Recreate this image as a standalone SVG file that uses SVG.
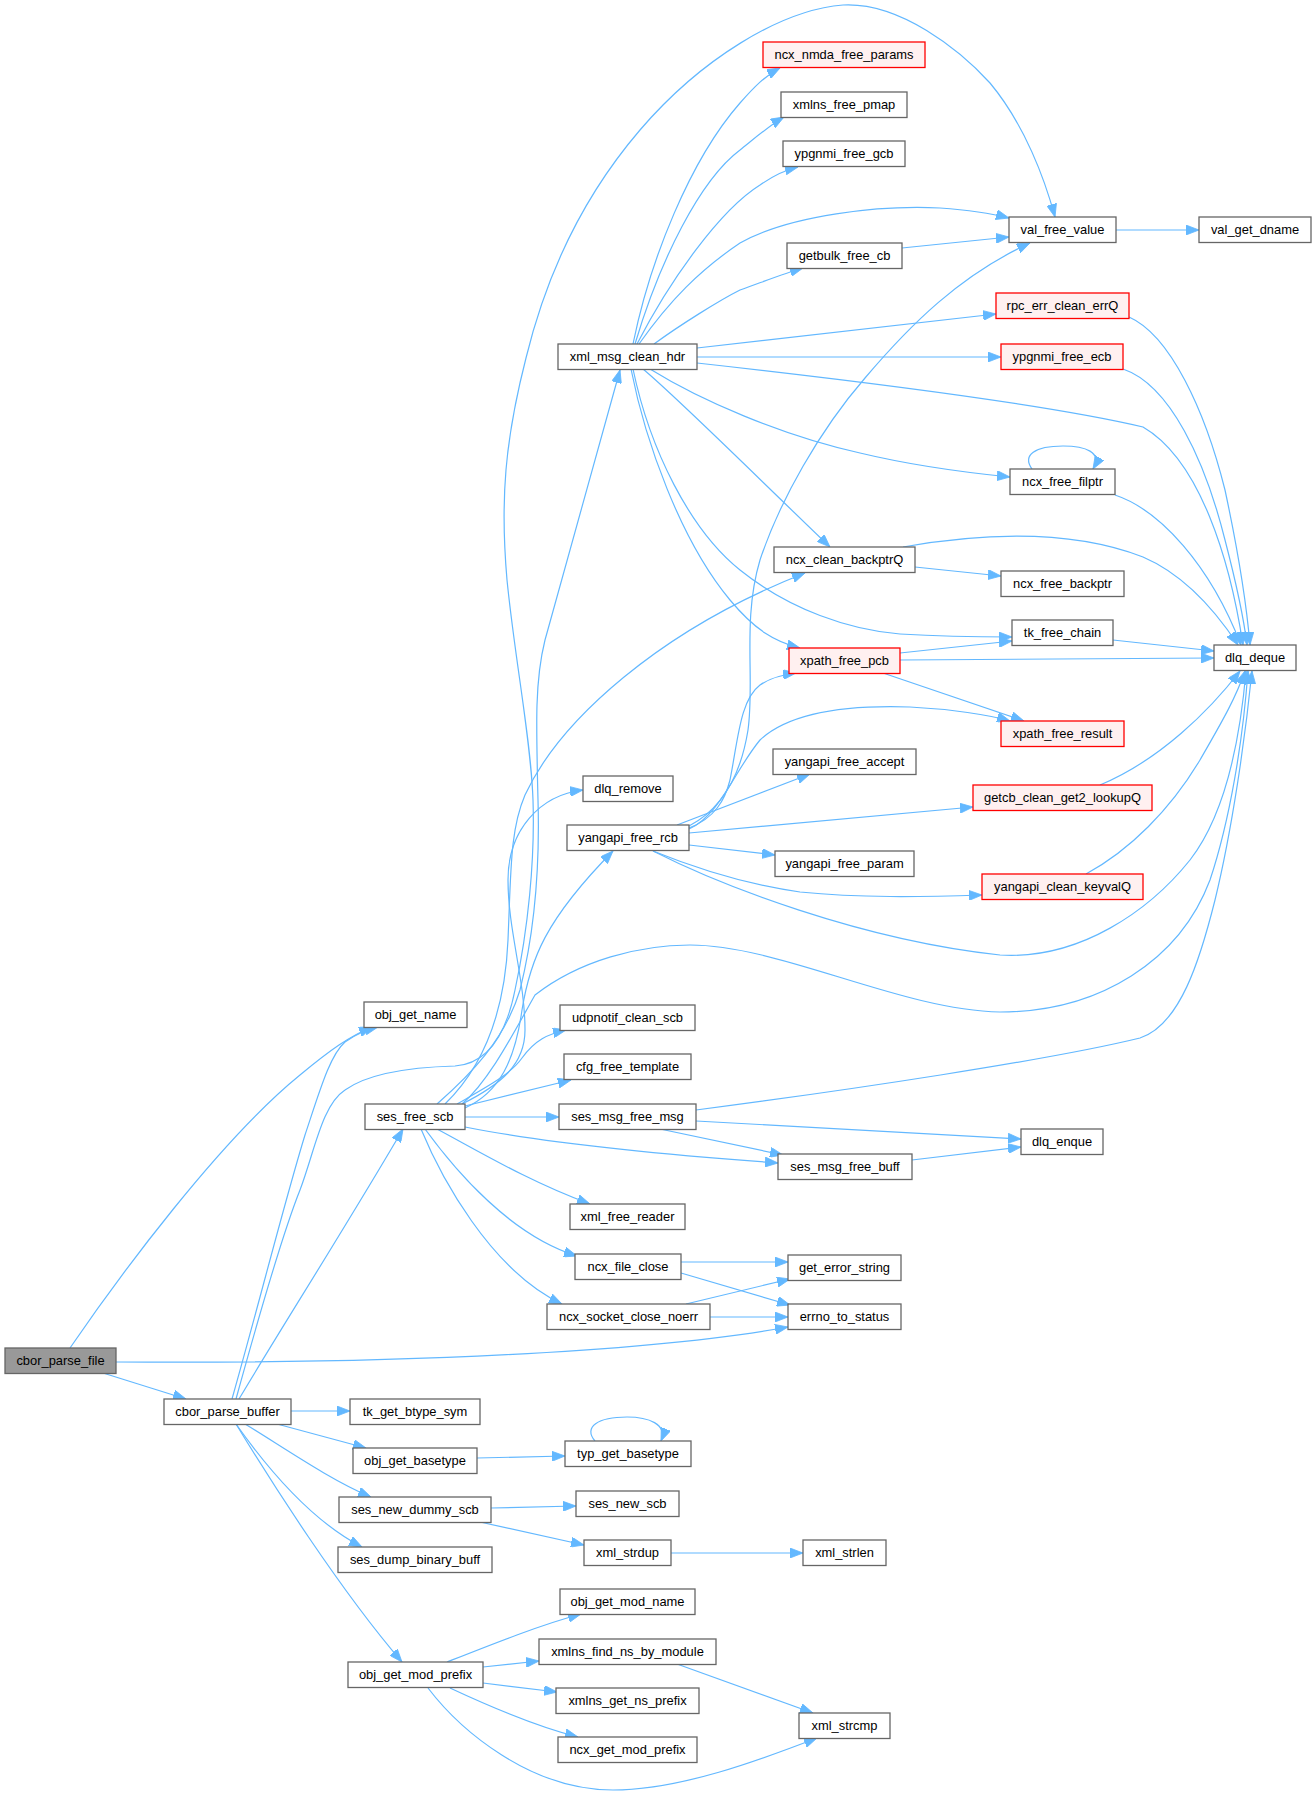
<svg xmlns="http://www.w3.org/2000/svg" width="1316" height="1797" viewBox="0 0 1316 1797">
<defs>
<style>
.n rect{fill:#ffffff;stroke:#666666;stroke-width:1.3}
.n.r rect{fill:#fff0f0;stroke:#ff0000}
.n.g rect{fill:#999999;stroke:#666666}
.n text{font-family:"Liberation Sans",Arial,Helvetica,sans-serif;font-size:12.9px;fill:#000000;text-anchor:middle}
#edges path{fill:none;stroke:#63b8ff;stroke-width:1.2;marker-end:url(#ah)}
</style>
<marker id="ah" markerWidth="13" markerHeight="10" refX="13" refY="5" orient="auto" markerUnits="userSpaceOnUse">
<path d="M0,0 L13,5 L0,10 z" fill="#63b8ff" stroke="#63b8ff" stroke-width="0.8"/>
</marker>
</defs>
<rect x="0" y="0" width="1316" height="1797" fill="#ffffff"/>
<g id="edges">
<path d="M70,1348 C120,1275 220,1140 300,1075 C330,1050 350,1036 372,1027"/>
<path d="M232,1399 C260,1300 285,1200 305,1135 C320,1090 330,1055 345,1042 C355,1035 365,1030 378,1027"/>
<path d="M116,1362 C400,1364 650,1352 788,1327"/>
<path d="M103,1373 L186,1399"/>
<path d="M236,1399 C255,1330 280,1240 300,1190 C315,1150 322,1105 345,1090 C370,1072 420,1067 455,1066 C485,1064 505,1040 515,990 C528,930 535,860 533,800 C531,740 515,660 507,580 C500,500 505,440 526,358 C545,280 580,200 640,130 C700,60 780,10 843,5 C900,2 960,50 990,83 C1025,125 1045,180 1055,217"/>
<path d="M437,1104 C470,1075 505,1040 520,990 C535,930 540,870 538,800 C536,720 535,680 545,640 L620,370"/>
<path d="M445,1104 C485,1065 505,1010 508,940 C511,870 510,830 525,795 C560,720 660,630 805,573"/>
<path d="M462,1104 C500,1085 525,1065 525,1030 C525,980 508,930 508,880 C508,830 540,795 583,790"/>
<path d="M465,1108 C500,1092 515,1060 522,1010 C530,960 545,920 613,851"/>
<path d="M462,1104 C490,1080 515,1030 535,995 C580,960 640,945 690,945 C780,945 900,1010 1000,1012 C1100,1012 1180,960 1210,880 C1230,820 1243,740 1248,671"/>
<path d="M457,1104 C485,1088 510,1075 522,1058 C535,1040 548,1034 566,1030"/>
<path d="M465,1106 L571,1080"/>
<path d="M465,1117 L559,1117"/>
<path d="M465,1127 C540,1142 640,1153 778,1163"/>
<path d="M437,1129 C480,1152 530,1182 590,1204"/>
<path d="M425,1129 C455,1170 510,1235 577,1256"/>
<path d="M421,1129 C440,1175 490,1270 562,1304"/>
<path d="M239,1399 C280,1330 350,1220 403,1129"/>
<path d="M291,1411 L350,1411"/>
<path d="M277,1424 L366,1448"/>
<path d="M245,1424 C280,1445 330,1480 371,1497"/>
<path d="M236,1424 C265,1465 310,1520 362,1547"/>
<path d="M236,1424 C270,1480 340,1590 402,1662"/>
<path d="M477,1458 L565,1456"/>
<path d="M595,1441 C583,1427 598,1417 627,1417 C648,1417 668,1424 661,1441"/>
<path d="M491,1508 L576,1506"/>
<path d="M480,1522 L584,1545"/>
<path d="M671,1553 L803,1553"/>
<path d="M447,1662 C490,1645 540,1625 581,1614"/>
<path d="M483,1667 L539,1661"/>
<path d="M483,1683 L557,1692"/>
<path d="M450,1688 C480,1702 530,1725 578,1737"/>
<path d="M428,1688 C460,1730 530,1790 613,1790 C680,1790 760,1760 817,1738"/>
<path d="M677,1664 L813,1713"/>
<path d="M681,1262 L788,1262"/>
<path d="M681,1273 L790,1305"/>
<path d="M686,1304 L790,1279"/>
<path d="M710,1317 L788,1317"/>
<path d="M696,1110 C850,1090 1050,1060 1140,1038 C1180,1025 1200,960 1215,900 C1232,830 1245,740 1252,671"/>
<path d="M696,1121 L1021,1139"/>
<path d="M660,1129 L783,1155"/>
<path d="M912,1160 L1021,1147"/>
<path d="M633,344 C650,260 690,160 740,103 C755,86 765,76 780,68"/>
<path d="M635,344 C660,260 700,180 740,150 C755,138 770,125 784,117"/>
<path d="M637,344 C670,280 720,210 760,185 C770,178 785,170 798,167"/>
<path d="M639,344 C670,300 700,270 740,243 C790,215 880,205 940,208 C970,210 990,213 1009,218"/>
<path d="M654,344 C680,325 720,300 740,290 C760,283 785,273 803,268"/>
<path d="M697,348 L996,314"/>
<path d="M697,357 L1001,357"/>
<path d="M697,363 C850,380 1050,405 1143,427 C1200,460 1230,560 1243,645"/>
<path d="M650,369 C700,400 780,435 860,453 C910,465 960,472 1010,477"/>
<path d="M643,369 C680,400 760,480 830,547"/>
<path d="M633,369 C650,450 690,530 740,570 C790,610 850,630 900,634 C950,637 990,637 1012,637"/>
<path d="M631,369 C645,440 680,540 730,600 C755,630 775,642 800,648"/>
<path d="M1116,230 L1199,230"/>
<path d="M902,248 L1009,237"/>
<path d="M1129,317 C1170,335 1205,410 1225,490 C1240,560 1247,610 1250,645"/>
<path d="M1123,369 C1170,385 1205,460 1225,540 C1238,590 1244,620 1247,645"/>
<path d="M1032,469 C1022,455 1035,446 1063,446 C1085,446 1103,452 1093,469"/>
<path d="M1115,495 C1160,510 1210,565 1241,645"/>
<path d="M903,547 C960,537 1060,525 1143,557 C1185,575 1215,610 1238,645"/>
<path d="M915,567 L1001,576"/>
<path d="M1113,640 L1214,651"/>
<path d="M900,653 L1012,641"/>
<path d="M900,660 L1214,658"/>
<path d="M883,673 L1024,721"/>
<path d="M1100,785 C1160,760 1210,710 1240,671"/>
<path d="M1086,874 C1130,850 1170,810 1200,760 C1220,725 1235,700 1245,671"/>
<path d="M689,828 C715,818 725,800 730,780 C738,740 740,700 760,685 C770,678 780,675 796,673"/>
<path d="M689,826 C720,810 740,780 748,730 C755,680 742,620 760,560 C780,500 820,430 865,378 C910,325 960,275 1030,243"/>
<path d="M689,829 C720,815 735,770 760,740 C790,712 850,705 910,707 C950,709 990,715 1010,721"/>
<path d="M677,825 L810,774"/>
<path d="M689,833 L973,807"/>
<path d="M689,845 L775,855"/>
<path d="M653,851 C700,870 750,885 800,892 C860,898 920,897 982,895"/>
<path d="M653,851 C720,885 860,940 1000,955 C1080,960 1150,910 1190,860 C1225,815 1240,740 1246,671"/>
</g>
<g id="n1" class="n g"><rect x="5" y="1348" width="111" height="25.5"/><text x="60.5" y="1365.2">cbor_parse_file</text></g>
<g id="n2" class="n"><rect x="164" y="1399" width="127" height="25.5"/><text x="227.5" y="1416.2">cbor_parse_buffer</text></g>
<g id="n3" class="n"><rect x="350" y="1399" width="130" height="25.5"/><text x="415" y="1416.2">tk_get_btype_sym</text></g>
<g id="n4" class="n"><rect x="353" y="1448" width="124" height="25.5"/><text x="415" y="1465.2">obj_get_basetype</text></g>
<g id="n5" class="n"><rect x="339" y="1497" width="152" height="25.5"/><text x="415" y="1514.2">ses_new_dummy_scb</text></g>
<g id="n6" class="n"><rect x="338" y="1547" width="154" height="25.5"/><text x="415" y="1564.2">ses_dump_binary_buff</text></g>
<g id="n7" class="n"><rect x="348" y="1662" width="135" height="25.5"/><text x="415.5" y="1679.2">obj_get_mod_prefix</text></g>
<g id="n8" class="n"><rect x="565" y="1441" width="126" height="25.5"/><text x="628" y="1458.2">typ_get_basetype</text></g>
<g id="n9" class="n"><rect x="576" y="1491" width="103" height="25.5"/><text x="627.5" y="1508.2">ses_new_scb</text></g>
<g id="n10" class="n"><rect x="584" y="1540" width="87" height="25.5"/><text x="627.5" y="1557.2">xml_strdup</text></g>
<g id="n11" class="n"><rect x="803" y="1540" width="83" height="25.5"/><text x="844.5" y="1557.2">xml_strlen</text></g>
<g id="n12" class="n"><rect x="560" y="1589" width="135" height="25.5"/><text x="627.5" y="1606.2">obj_get_mod_name</text></g>
<g id="n13" class="n"><rect x="539" y="1639" width="177" height="25.5"/><text x="627.5" y="1656.2">xmlns_find_ns_by_module</text></g>
<g id="n14" class="n"><rect x="556" y="1688" width="143" height="25.5"/><text x="627.5" y="1705.2">xmlns_get_ns_prefix</text></g>
<g id="n15" class="n"><rect x="558" y="1737" width="139" height="25.5"/><text x="627.5" y="1754.2">ncx_get_mod_prefix</text></g>
<g id="n16" class="n"><rect x="799" y="1713" width="91" height="25.5"/><text x="844.5" y="1730.2">xml_strcmp</text></g>
<g id="n17" class="n"><rect x="364" y="1002" width="103" height="25.5"/><text x="415.5" y="1019.2">obj_get_name</text></g>
<g id="n18" class="n"><rect x="365" y="1104" width="100" height="25.5"/><text x="415" y="1121.2">ses_free_scb</text></g>
<g id="n19" class="n"><rect x="560" y="1005" width="135" height="25.5"/><text x="627.5" y="1022.2">udpnotif_clean_scb</text></g>
<g id="n20" class="n"><rect x="564" y="1054" width="127" height="25.5"/><text x="627.5" y="1071.2">cfg_free_template</text></g>
<g id="n21" class="n"><rect x="559" y="1104" width="137" height="25.5"/><text x="627.5" y="1121.2">ses_msg_free_msg</text></g>
<g id="n22" class="n"><rect x="778" y="1154" width="134" height="25.5"/><text x="845" y="1171.2">ses_msg_free_buff</text></g>
<g id="n23" class="n"><rect x="1021" y="1129" width="82" height="25.5"/><text x="1062" y="1146.2">dlq_enque</text></g>
<g id="n24" class="n"><rect x="570" y="1204" width="115" height="25.5"/><text x="627.5" y="1221.2">xml_free_reader</text></g>
<g id="n25" class="n"><rect x="575" y="1254" width="106" height="25.5"/><text x="628" y="1271.2">ncx_file_close</text></g>
<g id="n26" class="n"><rect x="547" y="1304" width="163" height="25.5"/><text x="628.5" y="1321.2">ncx_socket_close_noerr</text></g>
<g id="n27" class="n"><rect x="788" y="1255" width="113" height="25.5"/><text x="844.5" y="1272.2">get_error_string</text></g>
<g id="n28" class="n"><rect x="788" y="1304" width="113" height="25.5"/><text x="844.5" y="1321.2">errno_to_status</text></g>
<g id="n29" class="n"><rect x="583" y="776" width="90" height="25.5"/><text x="628" y="793.2">dlq_remove</text></g>
<g id="n30" class="n"><rect x="567" y="825" width="122" height="25.5"/><text x="628" y="842.2">yangapi_free_rcb</text></g>
<g id="n31" class="n"><rect x="773" y="749" width="143" height="25.5"/><text x="844.5" y="766.2">yangapi_free_accept</text></g>
<g id="n32" class="n r"><rect x="973" y="785" width="179" height="25.5"/><text x="1062.5" y="802.2">getcb_clean_get2_lookupQ</text></g>
<g id="n33" class="n"><rect x="775" y="851" width="139" height="25.5"/><text x="844.5" y="868.2">yangapi_free_param</text></g>
<g id="n34" class="n r"><rect x="982" y="874" width="161" height="25.5"/><text x="1062.5" y="891.2">yangapi_clean_keyvalQ</text></g>
<g id="n35" class="n r"><rect x="789" y="648" width="111" height="25.5"/><text x="844.5" y="665.2">xpath_free_pcb</text></g>
<g id="n36" class="n r"><rect x="1001" y="721" width="123" height="25.5"/><text x="1062.5" y="738.2">xpath_free_result</text></g>
<g id="n37" class="n"><rect x="1012" y="620" width="101" height="25.5"/><text x="1062.5" y="637.2">tk_free_chain</text></g>
<g id="n38" class="n"><rect x="1214" y="645" width="82" height="25.5"/><text x="1255" y="662.2">dlq_deque</text></g>
<g id="n39" class="n"><rect x="774" y="547" width="141" height="25.5"/><text x="844.5" y="564.2">ncx_clean_backptrQ</text></g>
<g id="n40" class="n"><rect x="1001" y="571" width="123" height="25.5"/><text x="1062.5" y="588.2">ncx_free_backptr</text></g>
<g id="n41" class="n"><rect x="1010" y="469" width="105" height="25.5"/><text x="1062.5" y="486.2">ncx_free_filptr</text></g>
<g id="n42" class="n"><rect x="558" y="344" width="139" height="25.5"/><text x="627.5" y="361.2">xml_msg_clean_hdr</text></g>
<g id="n43" class="n r"><rect x="1001" y="344" width="122" height="25.5"/><text x="1062" y="361.2">ypgnmi_free_ecb</text></g>
<g id="n44" class="n r"><rect x="996" y="293" width="133" height="25.5"/><text x="1062.5" y="310.2">rpc_err_clean_errQ</text></g>
<g id="n45" class="n"><rect x="787" y="243" width="115" height="25.5"/><text x="844.5" y="260.2">getbulk_free_cb</text></g>
<g id="n46" class="n"><rect x="1009" y="217" width="107" height="25.5"/><text x="1062.5" y="234.2">val_free_value</text></g>
<g id="n47" class="n"><rect x="1199" y="217" width="112" height="25.5"/><text x="1255" y="234.2">val_get_dname</text></g>
<g id="n48" class="n"><rect x="783" y="141" width="122" height="25.5"/><text x="844" y="158.2">ypgnmi_free_gcb</text></g>
<g id="n49" class="n"><rect x="781" y="92" width="126" height="25.5"/><text x="844" y="109.2">xmlns_free_pmap</text></g>
<g id="n50" class="n r"><rect x="763" y="42" width="162" height="25.5"/><text x="844" y="59.2">ncx_nmda_free_params</text></g>
</svg>
